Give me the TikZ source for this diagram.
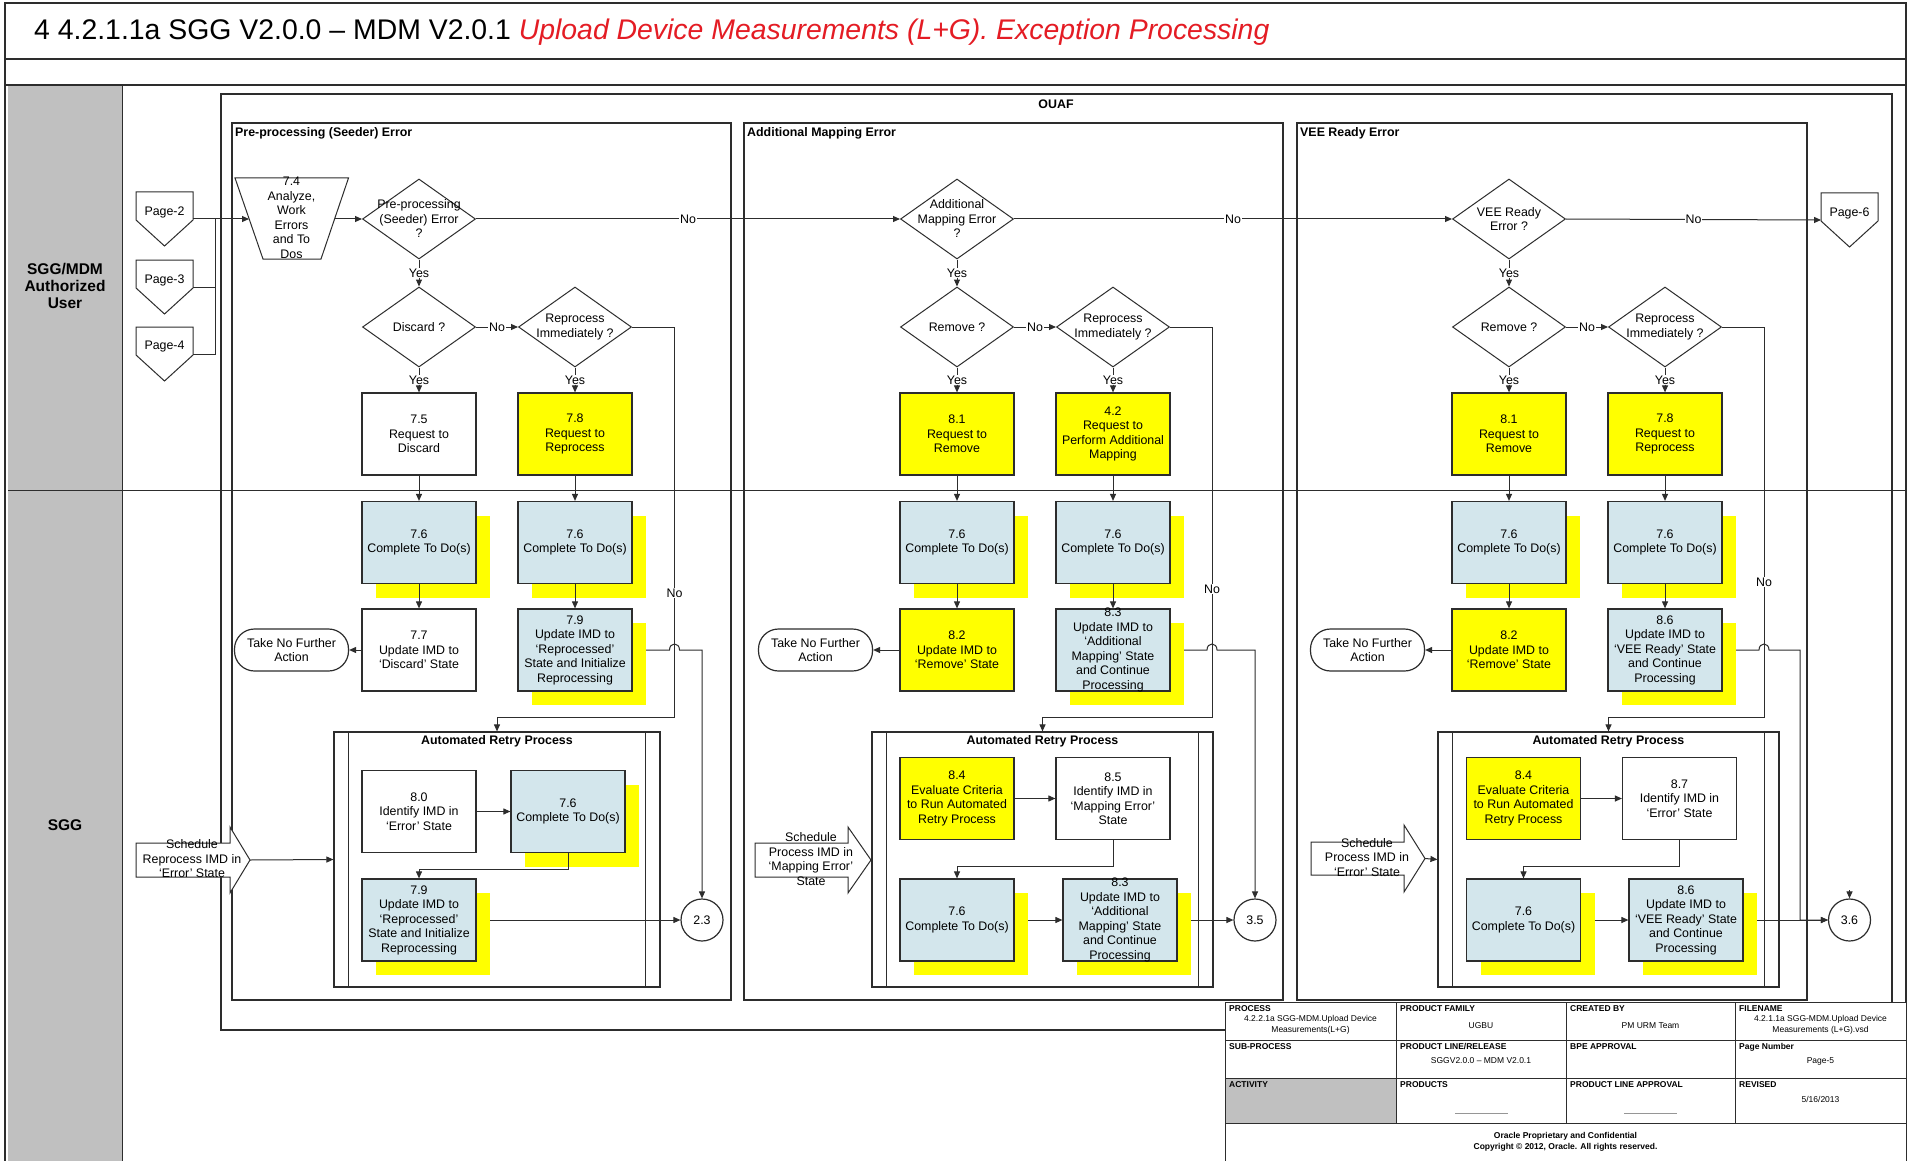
\documentclass[tikz,border=0pt]{standalone}
\usepackage{fontspec}
\setmainfont{Liberation Sans}
\usetikzlibrary{shapes.geometric,arrows.meta}

\definecolor{lblue}{RGB}{211,230,236}
\definecolor{hiyel}{RGB}{255,255,0}
\definecolor{hdrgray}{RGB}{192,192,192}
\definecolor{ink}{RGB}{45,45,45}
\definecolor{ttlred}{RGB}{228,28,36}
\definecolor{dashgray}{RGB}{150,150,150}

\newcommand\fs[2]{\fontsize{#1}{#2}\selectfont}

\tikzset{
  frm/.style={draw=ink, line width=1.8pt},
  ln/.style={draw=ink, line width=1pt},
  grp/.style={draw=ink, line width=2pt},
  pbox/.style={rectangle, draw=ink, line width=1.2pt, minimum width=114pt, minimum height=82pt, inner sep=0pt},
  shd/.style={rectangle, fill=hiyel, minimum width=114pt, minimum height=82pt, inner sep=0pt},
  lbl/.style={font=\fs{12.4}{14.5}, align=center, inner sep=0pt, text=black},
  dia/.style={diamond, draw=ink, line width=1pt, minimum width=113pt, minimum height=80pt, inner sep=0pt},
  term/.style={rectangle, rounded corners=20pt, draw=ink, line width=1.2pt, minimum width=114pt, minimum height=42pt, inner sep=0pt, font=\fs{12.4}{14.5}, align=center},
  conn/.style={draw=ink, line width=1pt, -{Triangle[length=7pt,width=6pt]}},
  plain/.style={draw=ink, line width=1pt},
  yn/.style={font=\fs{12.4}{14}, fill=white, inner sep=1pt},
  ttl/.style={font=\bfseries\fs{12.4}{14}, inner sep=0pt},
  circ/.style={circle, draw=ink, line width=1.2pt, minimum size=42pt, inner sep=0pt, font=\fs{12.4}{14}},
  subproc/.style={rectangle, draw=ink, line width=1.2pt, inner sep=0pt,
    path picture={\draw[draw=ink, line width=1.2pt]
      ([xshift=14.5pt]path picture bounding box.north west) -- ([xshift=14.5pt]path picture bounding box.south west)
      ([xshift=-14.5pt]path picture bounding box.north east) -- ([xshift=-14.5pt]path picture bounding box.south east);}},
  sched/.style={draw=ink, line width=1pt, fill=white},
  tabh/.style={font=\bfseries\fs{8.5}{10}, anchor=north west, inner sep=0pt},
  tabv/.style={font=\fs{8.5}{10.5}, align=center, inner sep=0pt},
}

% process boxes: name, x, y, text (blue boxes get a yellow shadow named s<name>)
\newcommand\blubox[4]{%
  \node[shd] (s#1) at ({#2+14},{#3+14}) {};
  \node[pbox, fill=lblue, label={[lbl]center:{#4}}] (#1) at (#2,#3) {};}
\newcommand\yelbox[4]{\node[pbox, fill=hiyel, label={[lbl]center:{#4}}] (#1) at (#2,#3) {};}
\newcommand\whbox[4]{\node[pbox, fill=white, label={[lbl]center:{#4}}] (#1) at (#2,#3) {};}
\newcommand\decis[4]{\node[dia, label={[lbl]center:{#4}}] (#1) at (#2,#3) {};}
% off-page reference: name, centre x, top y, text
\newcommand\offpage[4]{%
  \draw[ln, fill=white] ({#2-28.5},#3) -- ({#2+28.5},#3) -- ({#2+28.5},{#3+28}) -- (#2,{#3+54}) -- ({#2-28.5},{#3+28}) -- cycle;
  \node[lbl] (#1) at (#2,{#3+20}) {#4};
  \coordinate (#1e) at ({#2+28.5},{#3+27});
  \coordinate (#1w) at ({#2-28.5},{#3+27});}

\begin{document}
\begin{tikzpicture}[x=1pt,y=-1pt]
\useasboundingbox (0,0) rectangle (1911,1161);
\fill[white] (0,0) rectangle (1911,1161);

% frame, title and lanes
\fill[hdrgray] (8,85) rectangle (122,1165);
\draw[frm] (5,3) rectangle (1906,1166);
\draw[frm] (5,59) -- (1906,59);
\draw[ink, line width=1.3pt] (5,85) -- (1906,85);
\draw[ln] (122,85) -- (122,1165);
\draw[ln] (8,490) -- (1906,490);
\node[anchor=west, font=\fs{28.4}{32}, inner sep=0pt] (title) at (34,32.5)
  {4 4.2.1.1a SGG V2.0.0 – MDM V2.0.1 \textcolor{ttlred}{\itshape Upload Device Measurements (L+G). Exception Processing}};
\node[font=\bfseries\fs{15.5}{17}, align=center] (laneU) at (65,286) {SGG/MDM\\Authorized\\User};
\node[font=\bfseries\fs{15.5}{17}] (laneS) at (65,825) {SGG};

% OUAF and the three error groups
\draw[grp] (221,94) rectangle (1892,1030);
\node[ttl] (ouaf) at (1056,104) {OUAF};
\draw[grp] (232,123) rectangle (731,1000);
\node[ttl, anchor=west] (g1) at (235,133.5) {Pre-processing (Seeder) Error};
\draw[grp] (744,123) rectangle (1283,1000);
\node[ttl, anchor=west] (g2) at (747,133.5) {Additional Mapping Error};
\draw[grp] (1297,123) rectangle (1807,1000);
\node[ttl, anchor=west] (g3) at (1300,133.5) {VEE Ready Error};

% automated retry sub-processes
\node[subproc, minimum width=326pt, minimum height=255pt] (arp1) at (497,859.5) {};
\node[ttl] (arp1t) at (497,741) {Automated Retry Process};
\node[subproc, minimum width=341pt, minimum height=255pt] (arp2) at (1042.5,859.5) {};
\node[ttl] (arp2t) at (1042.5,741) {Automated Retry Process};
\node[subproc, minimum width=341pt, minimum height=255pt] (arp3) at (1608.5,859.5) {};
\node[ttl] (arp3t) at (1608.5,741) {Automated Retry Process};

% entry pages and 7.4
\offpage{p2}{164.5}{192}{Page-2}
\offpage{p3}{164.5}{260}{Page-3}
\offpage{p4}{164.5}{327}{Page-4}
\offpage{p6}{1849.5}{193}{Page-6}
\draw[ln, fill=white] (235,178) -- (348.5,178) -- (321,259) -- (263,259) -- cycle;
\node[lbl] (t74) at (291.5,218) {7.4\\Analyze,\\Work\\Errors\\and To\\Dos};
\coordinate (t74w) at (249,219);
\coordinate (t74e) at (334.5,219);

% ---- pre-processing (seeder) error ----
\decis{d1a}{419}{219}{Pre-processing\\(Seeder) Error\\?}
\decis{d1b}{419}{327}{Discard ?}
\decis{d1c}{575}{327}{Reprocess\\Immediately ?}
\whbox{b75}{419}{434}{7.5\\Request to\\Discard}
\yelbox{b78}{575}{434}{7.8\\Request to\\Reprocess}
\blubox{b76a}{419}{542.5}{7.6\\Complete To Do(s)}
\blubox{b76b}{575}{542.5}{7.6\\Complete To Do(s)}
\whbox{b77}{419}{650}{7.7\\Update IMD to\\`Discard' State}
\blubox{b79}{575}{650}{7.9\\Update IMD to\\`Reprocessed'\\State and Initialize\\Reprocessing}
\node[term] (tn1) at (291.5,650) {Take No Further\\Action};
\whbox{b80}{419}{811.5}{8.0\\Identify IMD in\\`Error' State}
\blubox{b76c}{568}{811.5}{7.6\\Complete To Do(s)}
\blubox{b79b}{419}{920}{7.9\\Update IMD to\\`Reprocessed'\\State and Initialize\\Reprocessing}
\node[circ] (c23) at (702,920) {2.3};
\draw[sched] (136,843) -- (230,843) -- (230,827) -- (250,860) -- (230,893) -- (230,877) -- (136,877) -- cycle;
\coordinate (sch1) at (250,860);
\node[lbl] (sch1t) at (192,859) {Schedule\\Reprocess IMD in\\`Error' State};

% ---- additional mapping error ----
\decis{d2a}{957}{219}{Additional\\Mapping Error\\?}
\decis{d2b}{957}{327}{Remove ?}
\decis{d2c}{1113}{327}{Reprocess\\Immediately ?}
\yelbox{b81}{957}{434}{8.1\\Request to\\Remove}
\yelbox{b42}{1113}{434}{4.2\\Request to\\Perform Additional\\Mapping}
\blubox{b76d}{957}{542.5}{7.6\\Complete To Do(s)}
\blubox{b76e}{1113}{542.5}{7.6\\Complete To Do(s)}
\yelbox{b82}{957}{650}{8.2\\Update IMD to\\`Remove' State}
\blubox{b83}{1113}{650}{8.3\\Update IMD to\\`Additional\\Mapping' State\\and Continue\\Processing}
\node[term] (tn2) at (815.5,650) {Take No Further\\Action};
\yelbox{b84}{957}{798.5}{8.4\\Evaluate Criteria\\to Run Automated\\Retry Process}
\whbox{b85}{1113}{798.5}{8.5\\Identify IMD in\\`Mapping Error'\\State}
\blubox{b76f}{957}{920}{7.6\\Complete To Do(s)}
\blubox{b83b}{1120}{920}{8.3\\Update IMD to\\`Additional\\Mapping' State\\and Continue\\Processing}
\node[circ] (c35) at (1255,920) {3.5};
\draw[sched] (755,843) -- (848,843) -- (848,827) -- (871,860) -- (848,893) -- (848,877) -- (755,877) -- cycle;
\node[lbl] (sch2t) at (811,859) {Schedule\\Process IMD in\\`Mapping Error'\\State};

% ---- VEE ready error ----
\decis{d3a}{1509}{219}{VEE Ready\\Error ?}
\decis{d3b}{1509}{327}{Remove ?}
\decis{d3c}{1665}{327}{Reprocess\\Immediately ?}
\yelbox{b81c}{1509}{434}{8.1\\Request to\\Remove}
\yelbox{b78c}{1665}{434}{7.8\\Request to\\Reprocess}
\blubox{b76g}{1509}{542.5}{7.6\\Complete To Do(s)}
\blubox{b76h}{1665}{542.5}{7.6\\Complete To Do(s)}
\yelbox{b82c}{1509}{650}{8.2\\Update IMD to\\`Remove' State}
\blubox{b86}{1665}{650}{8.6\\Update IMD to\\`VEE Ready' State\\and Continue\\Processing}
\node[term] (tn3) at (1367.5,650) {Take No Further\\Action};
\yelbox{b84c}{1523.5}{798.5}{8.4\\Evaluate Criteria\\to Run Automated\\Retry Process}
\whbox{b87}{1679.5}{798.5}{8.7\\Identify IMD in\\`Error' State}
\blubox{b76i}{1523.5}{920}{7.6\\Complete To Do(s)}
\blubox{b86b}{1686}{920}{8.6\\Update IMD to\\`VEE Ready' State\\and Continue\\Processing}
\node[circ] (c36) at (1849.5,920) {3.6};
\draw[sched] (1311,842) -- (1404,842) -- (1404,825) -- (1425,858.5) -- (1404,892) -- (1404,875) -- (1311,875) -- cycle;
\coordinate (sch3) at (1425,858.5);
\node[lbl] (sch3t) at (1367,857.5) {Schedule\\Process IMD in\\`Error' State};

% ---- connectors: pre-processing ----
\draw[conn] (p2e) -- (t74w);
\draw[plain] (p3e) -| (215,219);
\draw[plain] (p4e) -| (215,219);
\draw[conn] (t74e) -- (d1a.west);
\draw[conn] (d1a.east) -- node[yn]{No} (d2a.west);
\draw[conn] (d1a.south) -- node[yn]{Yes} (d1b.north);
\draw[conn] (d1b.east) -- node[yn]{No} (d1c.west);
\draw[conn] (d1b.south) -- node[yn]{Yes} (b75.north);
\draw[conn] (d1c.south) -- node[yn]{Yes} (b78.north);
\draw[conn] (d1c.east) -| (674.5,717) -| (arp1.north);
\node[yn] (no1) at (674.5,593) {No};
\draw[conn] (b75.south) -- (b76a.north);
\draw[conn] (b78.south) -- (b76b.north);
\draw[conn] (b76a.south) -- (b77.north);
\draw[conn] (b76b.south) -- (b79.north);
\draw[conn] (b77.west) -- (tn1.east);
\draw[conn] (sb79.east |- b79.east) -- (669.5,650) .. controls (669.5,642) and (679.5,642) .. (679.5,650) -| (c23.north);
\draw[conn] (sch1) -- (arp1.west);
\draw[conn] (b80.east) -- (b76c.west);
\draw[conn] (b76c.south) -- (568,869) -| (b79b.north);
\draw[conn] (sb79b.east |- b79b.east) -- (c23.west);

% ---- connectors: additional mapping ----
\draw[conn] (d2a.east) -- node[yn]{No} (d3a.west);
\draw[conn] (d2a.south) -- node[yn]{Yes} (d2b.north);
\draw[conn] (d2b.east) -- node[yn]{No} (d2c.west);
\draw[conn] (d2b.south) -- node[yn]{Yes} (b81.north);
\draw[conn] (d2c.south) -- node[yn]{Yes} (b42.north);
\draw[conn] (d2c.east) -| (1212,717) -| (arp2.north);
\node[yn] (no2) at (1212,589) {No};
\draw[conn] (b81.south) -- (b76d.north);
\draw[conn] (b42.south) -- (b76e.north);
\draw[conn] (b76d.south) -- (b82.north);
\draw[conn] (b76e.south) -- (b83.north);
\draw[conn] (b82.west) -- (tn2.east);
\draw[conn] (sb83.east |- b83.east) -- (1207,650) .. controls (1207,642) and (1217,642) .. (1217,650) -| (c35.north);
\draw[conn] (b84.east) -- (b85.west);
\draw[conn] (b85.south) -- (1113,866) -| (b76f.north);
\draw[conn] (sb76f.east |- b76f.east) -- (b83b.west);
\draw[conn] (sb83b.east |- b83b.east) -- (c35.west);

% ---- connectors: VEE ready ----
\draw[conn] (d3a.east) -- node[yn]{No} (p6w);
\draw[conn] (d3a.south) -- node[yn]{Yes} (d3b.north);
\draw[conn] (d3b.east) -- node[yn]{No} (d3c.west);
\draw[conn] (d3b.south) -- node[yn]{Yes} (b81c.north);
\draw[conn] (d3c.south) -- node[yn]{Yes} (b78c.north);
\draw[conn] (d3c.east) -| (1764,717) -| (arp3.north);
\node[yn] (no3) at (1764,582) {No};
\draw[conn] (b81c.south) -- (b76g.north);
\draw[conn] (b78c.south) -- (b76h.north);
\draw[conn] (b76g.south) -- (b82c.north);
\draw[conn] (b76h.south) -- (b86.north);
\draw[conn] (b82c.west) -- (tn3.east);
\draw[conn] (sb86.east |- b86.east) -- (1759,650) .. controls (1759,642) and (1769,642) .. (1769,650) -- (1800,650) |- (c36.west);
\draw[conn] (b84c.east) -- (b87.west);
\draw[conn] (b87.south) -- (1679.5,866) -| (b76i.north);
\draw[conn] (sb76i.east |- b76i.east) -- (b86b.west);
\draw[conn] (sb86b.east |- b86b.east) -- (c36.west);
\draw[conn] (sch3) -- (arp3.west);
\coordinate (c36t) at (1849.5,890);
\draw[conn] (c36t) -- (c36.north);

% ---- title block ----
\fill[white] (1225,1002) rectangle (1906,1166);
\fill[hdrgray] (1225,1078) rectangle (1396,1123);
\draw[ln] (1225,1002) rectangle (1906,1166);
\draw[ln] (1225,1040) -- (1906,1040) (1225,1078) -- (1906,1078) (1225,1123) -- (1906,1123);
\draw[ln] (1396,1002) -- (1396,1123) (1566,1002) -- (1566,1123) (1735,1002) -- (1735,1123);
\node[tabh] (h11) at (1229,1005) {PROCESS};
\node[tabh] (h12) at (1400,1005) {PRODUCT FAMILY};
\node[tabh] (h13) at (1570,1005) {CREATED BY};
\node[tabh] (h14) at (1739,1005) {FILENAME};
\node[tabh] (h21) at (1229,1043) {SUB-PROCESS};
\node[tabh] (h22) at (1400,1043) {PRODUCT LINE/RELEASE};
\node[tabh] (h23) at (1570,1043) {BPE APPROVAL};
\node[tabh] (h24) at (1739,1043) {Page Number};
\node[tabh] (h31) at (1229,1081) {ACTIVITY};
\node[tabh] (h32) at (1400,1081) {PRODUCTS};
\node[tabh] (h33) at (1570,1081) {PRODUCT LINE APPROVAL};
\node[tabh] (h34) at (1739,1081) {REVISED};
\node[tabv] (v11) at (1310.5,1025) {4.2.2.1a SGG-MDM.Upload Device\\Measurements(L+G)};
\node[tabv] (v12) at (1481,1026) {UGBU};
\node[tabv] (v13) at (1650.5,1026) {PM URM Team};
\node[tabv] (v14) at (1820.5,1025) {4.2.1.1a SGG-MDM.Upload Device\\Measurements (L+G).vsd};
\node[tabv] (v22) at (1481,1061) {SGGV2.0.0 – MDM V2.0.1};
\node[tabv] (v24) at (1820.5,1061) {Page-5};
\node[tabv] (v34) at (1820.5,1099) {5/16/2013};
\draw[dashgray, line width=0.8pt] (1455,1113) -- (1508,1113);
\draw[dashgray, line width=0.8pt] (1624,1113) -- (1677,1113);
\node[tabv, font=\bfseries\fs{8.5}{11}] (foot) at (1565.5,1142) {Oracle Proprietary and Confidential\\Copyright © 2012, Oracle. All rights reserved.};
\end{tikzpicture}
\end{document}
